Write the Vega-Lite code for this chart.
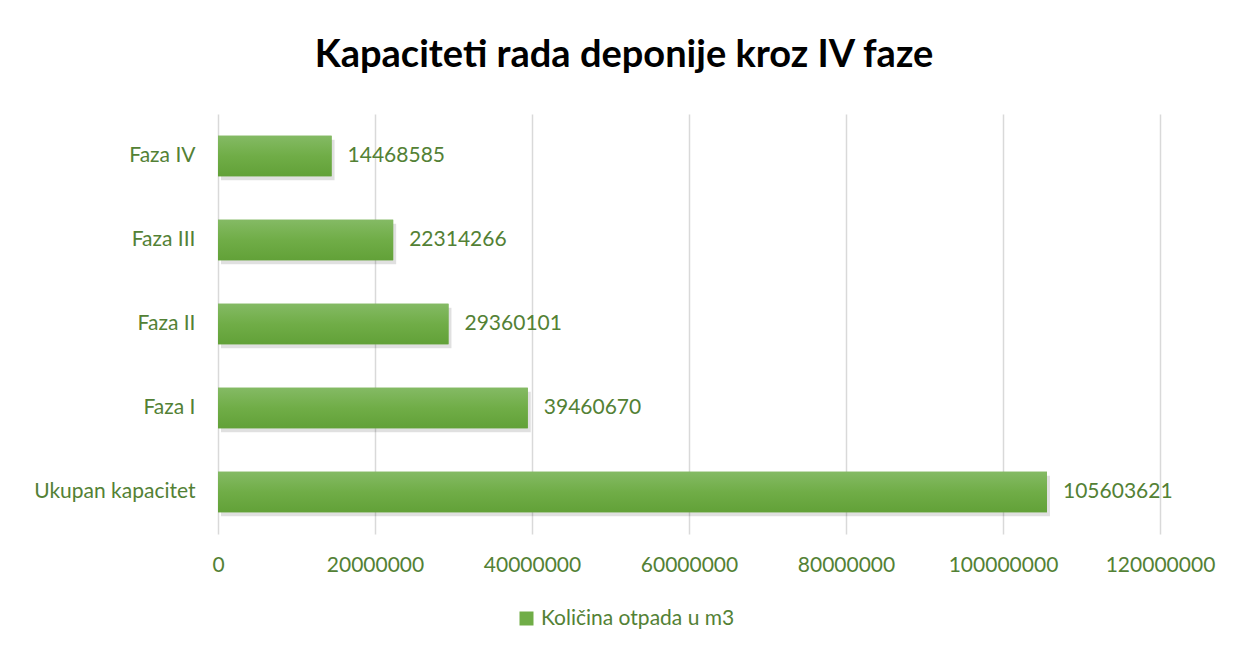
{
  "$schema": "https://vega.github.io/schema/vega-lite/v6.json",
  "autosize": "none",
  "width": 942,
  "height": 420,
  "padding": {"left": 218, "top": 114, "right": 73, "bottom": 117},
  "background": "white",
  "title": {
    "text": "Kapaciteti rada deponije kroz IV faze",
    "font": "Lato",
    "fontSize": 38,
    "fontWeight": "bold",
    "color": "#000000",
    "anchor": "middle",
    "dx": -65,
    "baseline": "alphabetic",
    "offset": 9
  },
  "config": {
    "view": {"stroke": null},
    "font": "Lato"
  },
  "data": {
    "values": [
      {"kategorija": "Faza IV", "vrijednost": 14468585, "serija": "Količina otpada u m3"},
      {"kategorija": "Faza III", "vrijednost": 22314266, "serija": "Količina otpada u m3"},
      {"kategorija": "Faza II", "vrijednost": 29360101, "serija": "Količina otpada u m3"},
      {"kategorija": "Faza I", "vrijednost": 39460670, "serija": "Količina otpada u m3"},
      {"kategorija": "Ukupan kapacitet", "vrijednost": 105603621, "serija": "Količina otpada u m3"}
    ]
  },
  "encoding": {
    "y": {
      "field": "kategorija",
      "type": "nominal",
      "sort": ["Faza IV", "Faza III", "Faza II", "Faza I", "Ukupan kapacitet"],
      "scale": {"paddingInner": 0.52, "paddingOuter": 0.26},
      "axis": {
        "title": null,
        "domain": false,
        "ticks": false,
        "labelFont": "Lato",
        "labelFontSize": 21,
        "labelColor": "#538135",
        "labelPadding": 23,
        "labelLimit": 300
      }
    },
    "x": {
      "field": "vrijednost",
      "type": "quantitative",
      "scale": {"domain": [0, 120000000], "nice": false},
      "axis": {
        "title": null,
        "values": [0, 20000000, 40000000, 60000000, 80000000, 100000000, 120000000],
        "format": "d",
        "domain": false,
        "ticks": false,
        "grid": true,
        "gridColor": "#D9D9D9",
        "gridWidth": 1.5,
        "labelFlush": false,
        "labelFont": "Lato",
        "labelFontSize": 21,
        "labelColor": "#538135",
        "labelPadding": 20,
        "labelOverlap": false
      }
    }
  },
  "layer": [
    {
      "mark": {"type": "bar", "fill": "#000000", "opacity": 0.12, "xOffset": 3, "yOffset": 4},
      "encoding": {}
    },
    {
      "mark": {"type": "bar"},
      "encoding": {
        "color": {
          "field": "serija",
          "type": "nominal",
          "scale": {"range": ["#70AD47"]},
          "legend": {
            "title": null,
            "orient": "none",
            "legendX": 298,
            "legendY": 494,
            "symbolType": "square",
            "symbolSize": 196,
            "symbolStrokeWidth": 0,
            "labelFont": "Lato",
            "labelFontSize": 21,
            "labelColor": "#538135",
            "labelOffset": 4,
            "labelLimit": 400
          }
        }
      }
    },
    {
      "mark": {
        "type": "bar",
        "fill": {
          "gradient": "linear",
          "x1": 0, "y1": 0, "x2": 0, "y2": 1,
          "stops": [
            {"offset": 0, "color": "#84BA64"},
            {"offset": 0.5, "color": "#70AD47"},
            {"offset": 1, "color": "#62A138"}
          ]
        }
      },
      "encoding": {}
    },
    {
      "mark": {
        "type": "text",
        "align": "left",
        "baseline": "middle",
        "dx": 16,
        "font": "Lato",
        "fontSize": 21,
        "color": "#538135"
      },
      "encoding": {
        "text": {"field": "vrijednost", "type": "quantitative", "format": "d"}
      }
    }
  ]
}
